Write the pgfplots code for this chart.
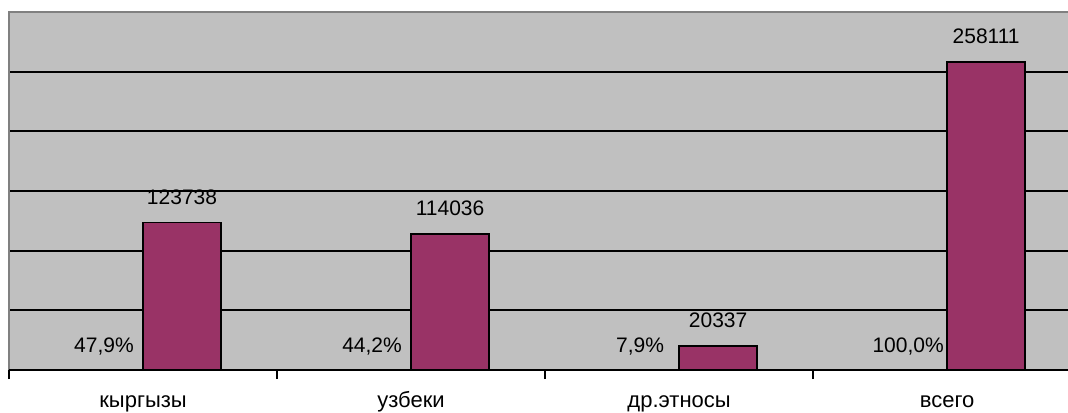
\documentclass[border=0pt]{standalone}
\usepackage{fontspec}
\setmainfont{Liberation Sans}
\usepackage{pgfplots}
\pgfplotsset{compat=1.18}

\definecolor{bggray}{HTML}{C0C0C0}
\definecolor{framegray}{HTML}{808080}
\definecolor{barcol}{HTML}{993366}

\begin{document}
\begin{tikzpicture}
\newcommand{\lbl}{\fontsize{10.5pt}{12pt}\selectfont}
\begin{axis}[
    scale only axis,
    width=529.5pt, height=179pt,
    xmin=-0.5, xmax=3.451,
    ymin=0, ymax=300000,
    scaled y ticks=false,
    axis line style={draw=none},
    axis background/.style={fill=bggray},
    xtick={0,1,2,3},
    xticklabels={кыргызы, узбеки, др.этносы, всего},
    major x tick style={draw=none},
    minor xtick={-0.5,0.5,1.5,2.5},
    minor x tick style={black, line width=0.8pt},
    minor tick length=4.5pt,
    tick align=outside,
    xtick pos=lower,
    ytick pos=left,
    xticklabel style={font=\fontsize{11pt}{13pt}\selectfont, anchor=base, yshift=-14.5pt},
    ytick={50000,100000,150000,200000,250000},
    yticklabels={},
    major y tick style={draw=none},
    ymajorgrids,
    grid style={black, line width=1pt},
    clip=false,
]
% frame: grey top and left, black category axis
\draw[framegray, line width=1pt] (rel axis cs:0,0) -- (rel axis cs:0,1) -- (rel axis cs:1,1);

% values
\addplot[ybar, bar width=0.291, fill=barcol, draw=black, line width=0.8pt,
    nodes near coords, point meta=explicit symbolic,
    nodes near coords style={font=\lbl, anchor=base, inner sep=0pt, yshift=9pt}]
    table[meta=label] {
x       y       label
0.1455  123738  123738
1.1455  114036  114036
2.1455  20337   20337
3.1455  258111  258111
};

% shares (labels of the zero-height first series)
\addplot[draw=none, mark=none,
    nodes near coords, point meta=explicit symbolic,
    nodes near coords style={font=\lbl, anchor=base, inner sep=0pt, yshift=9pt}]
    table[meta=label] {
x        y  label
-0.1455  0  47,9\%
0.8545   0  44,2\%
1.8545   0  7,9\%
2.8545   0  100,0\%
};

\draw[black, line width=1pt] (rel axis cs:0,0) -- (rel axis cs:1,0);
\end{axis}
\pgfresetboundingbox
\path ([xshift=-4.5pt, yshift=-21pt]current axis.south west) rectangle ([yshift=6pt]current axis.north east);
\end{tikzpicture}
\end{document}
